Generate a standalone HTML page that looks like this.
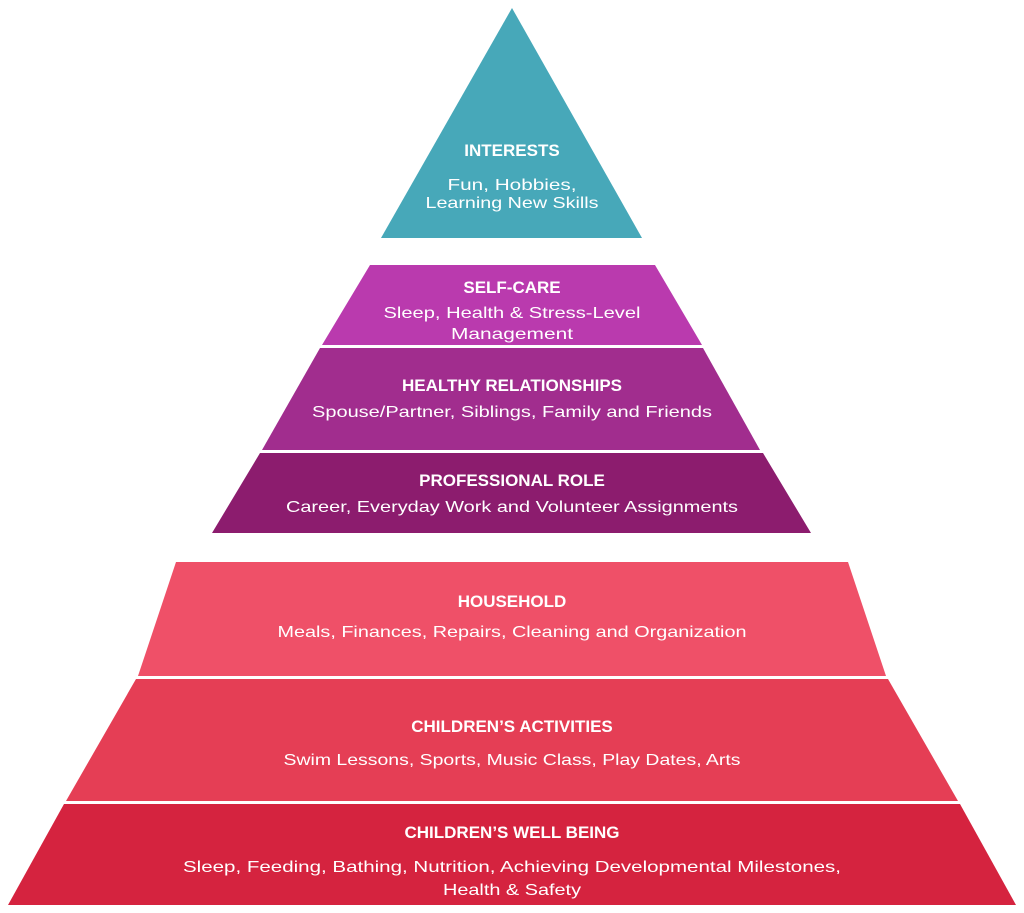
<!DOCTYPE html>
<html><head><meta charset="utf-8"><style>
html,body{margin:0;padding:0;background:#fff;}
svg text{font-family:"Liberation Sans",sans-serif;fill:#fff;text-anchor:middle;}
.t{font-weight:bold;font-size:17px;}
.s{font-size:16px;}
</style></head><body>
<svg width="1024" height="908" viewBox="0 0 1024 908" xmlns="http://www.w3.org/2000/svg">
<polygon points="512,8 642,238 381,238" fill="#47a8b9"/>
<polygon points="370,265 655,265 702,345 322,345" fill="#ba3aae"/>
<polygon points="320,348 703,348 760,450 262,450" fill="#a12d8e"/>
<polygon points="260,453 763,453 811,533 212,533" fill="#8c1c6e"/>
<polygon points="176,562 848,562 886,676 138,676" fill="#ef5068"/>
<polygon points="136,679 888,679 958,801 66,801" fill="#e53e55"/>
<polygon points="64,804 960,804 1016,905 8,905" fill="#d5233f"/>

<text class="t" x="512" y="156">INTERESTS</text>
<text class="s" x="512" y="190" textLength="129" lengthAdjust="spacingAndGlyphs">Fun, Hobbies,</text>
<text class="s" x="512" y="208" textLength="173" lengthAdjust="spacingAndGlyphs">Learning New Skills</text>

<text class="t" x="512" y="293">SELF-CARE</text>
<text class="s" x="512" y="318" textLength="257" lengthAdjust="spacingAndGlyphs">Sleep, Health &amp; Stress-Level</text>
<text class="s" x="512" y="339" textLength="122" lengthAdjust="spacingAndGlyphs">Management</text>

<text class="t" x="512" y="391">HEALTHY RELATIONSHIPS</text>
<text class="s" x="512" y="417" textLength="400" lengthAdjust="spacingAndGlyphs">Spouse/Partner, Siblings, Family and Friends</text>

<text class="t" x="512" y="486">PROFESSIONAL ROLE</text>
<text class="s" x="512" y="512" textLength="452" lengthAdjust="spacingAndGlyphs">Career, Everyday Work and Volunteer Assignments</text>

<text class="t" x="512" y="607">HOUSEHOLD</text>
<text class="s" x="512" y="637" textLength="469" lengthAdjust="spacingAndGlyphs">Meals, Finances, Repairs, Cleaning and Organization</text>

<text class="t" x="512" y="732">CHILDREN’S ACTIVITIES</text>
<text class="s" x="512" y="765" textLength="457" lengthAdjust="spacingAndGlyphs">Swim Lessons, Sports, Music Class, Play Dates, Arts</text>

<text class="t" x="512" y="838">CHILDREN’S WELL BEING</text>
<text class="s" x="512" y="872" textLength="658" lengthAdjust="spacingAndGlyphs">Sleep, Feeding, Bathing, Nutrition, Achieving Developmental Milestones,</text>
<text class="s" x="512" y="895" textLength="138" lengthAdjust="spacingAndGlyphs">Health &amp; Safety</text>
</svg>
</body></html>
